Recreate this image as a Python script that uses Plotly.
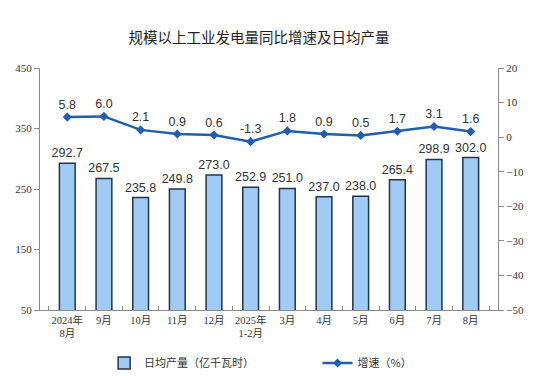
import plotly.graph_objects as go

categories = ["2024年<br>8月", "9月", "10月", "11月", "12月", "2025年<br>1-2月",
              "3月", "4月", "5月", "6月", "7月", "8月"]
daily_output = [292.7, 267.5, 235.8, 249.8, 273.0, 252.9, 251.0, 237.0, 238.0, 265.4, 298.9, 302.0]
growth = [5.8, 6.0, 2.1, 0.9, 0.6, -1.3, 1.8, 0.9, 0.5, 1.7, 3.1, 1.6]

bar_name = "日均产量（亿千瓦时）"
line_name = "增速（%）"

serif = "Liberation Serif, Noto Sans CJK SC"
sans = "Liberation Sans, Arial, Noto Sans CJK SC"

fig = go.Figure()
fig.add_trace(go.Bar(
    x=categories, y=daily_output, name=bar_name, legend="legend",
    marker=dict(color="#9fcbf5", line=dict(color="#25344a", width=1.5)),
    text=[f"{v:.1f}" for v in daily_output], textposition="outside",
    constraintext="none",
    textfont=dict(family=sans, size=12.5, color="#333333"),
    cliponaxis=False,
))
fig.add_trace(go.Scatter(
    x=categories, y=growth, name=line_name, yaxis="y2", legend="legend2",
    mode="lines+markers+text",
    line=dict(color="#1f5fae", width=2.5),
    marker=dict(symbol="diamond", size=7, color="#1f5fae"),
    text=[f"{v:.1f}" for v in growth], textposition="top center",
    textfont=dict(family=sans, size=12.5, color="#333333"),
    cliponaxis=False,
))

legend_font = dict(family="Noto Sans CJK SC", size=11, color="#333333")
fig.update_layout(
    width=542, height=368,
    margin=dict(l=32, r=52, t=60, b=66, autoexpand=False),
    paper_bgcolor="white", plot_bgcolor="white",
    title=dict(text="规模以上工业发电量同比增速及日均产量", x=251 / 542, xanchor="center",
               y=1 - 30 / 368, yanchor="middle",
               font=dict(family="Noto Sans CJK SC", size=14.5, color="#222222")),
    bargap=0.57,
    showlegend=True,
    legend=dict(orientation="h", x=0.14, xanchor="left", y=-0.219, yanchor="middle",
                font=legend_font, bgcolor="rgba(0,0,0,0)"),
    legend2=dict(orientation="h", x=0.606, xanchor="left", y=-0.219, yanchor="middle",
                 font=legend_font, bgcolor="rgba(0,0,0,0)"),
    xaxis=dict(
        showline=True, linecolor="#8a8a8a", linewidth=1,
        ticks="inside", tickson="boundaries", ticklen=4, tickcolor="#8a8a8a",
        tickangle=0,
        tickfont=dict(family=serif, size=10.5, color="#333333"),
        showgrid=False,
    ),
    yaxis=dict(
        range=[50, 450], tickvals=[50, 150, 250, 350, 450],
        showline=True, linecolor="#8a8a8a", linewidth=1,
        ticks="outside", ticklen=5, tickcolor="#8a8a8a",
        tickfont=dict(family=serif, size=11, color="#333333"),
        showgrid=False, zeroline=False,
    ),
    yaxis2=dict(
        range=[-50, 20], tickvals=list(range(-50, 21, 10)),
        overlaying="y", side="right",
        showline=True, linecolor="#8a8a8a", linewidth=1,
        ticks="outside", ticklen=5, tickcolor="#8a8a8a",
        tickfont=dict(family=serif, size=11, color="#333333"),
        showgrid=False, zeroline=False,
    ),
)

fig.write_html("out.html")
